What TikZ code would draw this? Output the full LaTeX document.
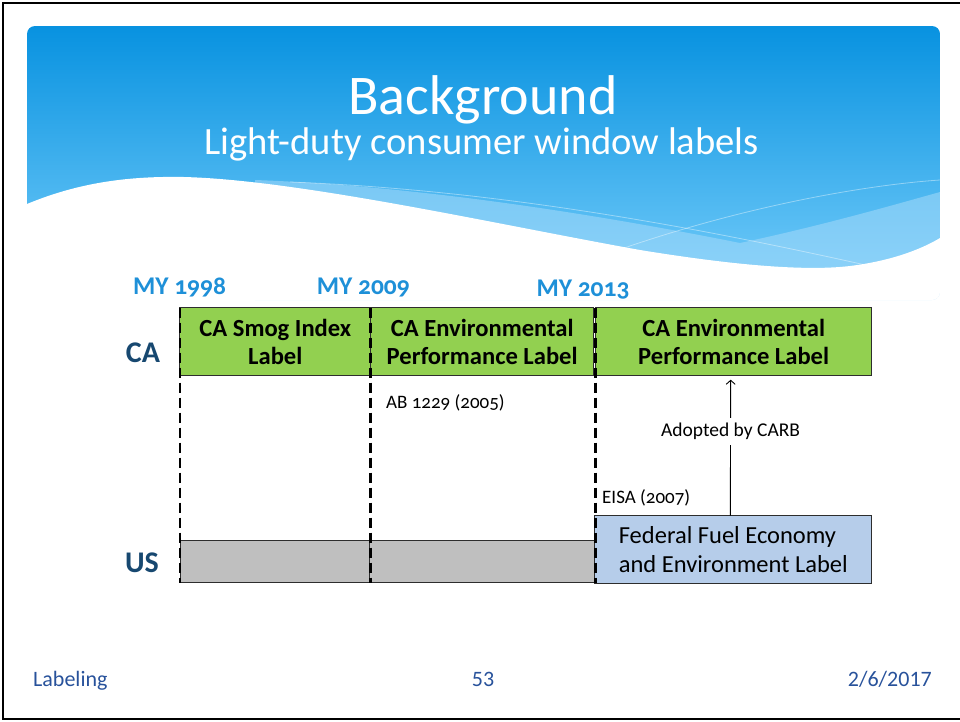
\documentclass[tikz,border=0pt]{standalone}
\usepackage{fontspec}
\setmainfont{Carlito}[Numbers=OldStyle]
\newfontfamily\liningfont{Carlito}
\usetikzlibrary{arrows.meta}

\definecolor{hdtop}{RGB}{8,146,224}
\definecolor{hdbot}{RGB}{108,200,248}
\definecolor{bandblue}{RGB}{165,218,250}
\definecolor{cagreen}{RGB}{146,208,80}
\definecolor{usgray}{RGB}{191,191,191}
\definecolor{fedblue}{RGB}{182,205,234}
\definecolor{boxline}{RGB}{45,45,45}
\definecolor{yearblue}{RGB}{30,144,216}
\definecolor{rowblue}{RGB}{23,72,112}
\definecolor{footblue}{RGB}{40,82,155}

\begin{document}
\begin{tikzpicture}[x=1pt,y=-1pt,
  labelbox/.style={draw=boxline, line width=1pt, minimum height=68pt,
    inner sep=0pt, outer sep=0pt, fill=cagreen, align=center,
    font=\bfseries\fontsize{24.6}{28.3}\selectfont},
  graybox/.style={draw=boxline, line width=1pt, minimum height=42.4pt,
    inner sep=0pt, outer sep=0pt, fill=usgray},
  fedbox/.style={draw=boxline, line width=1pt, minimum height=67.6pt,
    inner sep=0pt, outer sep=0pt, fill=fedblue, align=left,
    font=\fontsize{24.5}{28.3}\selectfont},
  year/.style={anchor=base, inner sep=0pt, text=yearblue,
    font=\bfseries\fontsize{25.5}{30}\selectfont},
  rowname/.style={anchor=base, inner sep=0pt, text=rowblue,
    font=\bfseries\fontsize{30}{34}\selectfont},
  note/.style={anchor=base west, inner sep=0pt,
    font=\fontsize{19}{22}\selectfont},
  divider/.style={line width=2.6pt, dash pattern=on 10pt off 5pt},
  footer/.style={anchor=base, inner sep=0pt, text=footblue,
    font=\liningfont\fontsize{22}{26}\selectfont}
]
\useasboundingbox (0,0) rectangle (960,721);

% page frame
\draw[line width=2pt] (960,3) -- (3,3) -- (3,719) -- (960,719);

% header banner with its wave
\begin{scope}
  \clip[rounded corners=8pt] (27,26) rectangle (940,300);
  \shade[top color=hdtop, bottom color=hdbot] (27,26) rectangle (940,272);
  \fill[bandblue, opacity=0.55]
    (255,180) .. controls (420,186) and (600,215) .. (740,243)
    .. controls (820,226) and (890,206) .. (940,192)
    -- (940,300) -- (255,300) -- cycle;
  \draw[white, opacity=0.4, line width=0.8pt]
    (290,182) .. controls (500,190) and (700,228) .. (870,266);
  \draw[white, opacity=0.4, line width=0.8pt]
    (560,272) .. controls (700,215) and (850,186) .. (940,180);
  \fill[white]
    (27,204) .. controls (80,182) and (130,176) .. (184,177)
    .. controls (300,180) and (500,225) .. (640,250)
    .. controls (720,263) and (800,272) .. (850,266)
    .. controls (890,261) and (920,250) .. (940,238)
    -- (940,300) -- (27,300) -- cycle;
\end{scope}

\node[anchor=base, inner sep=0pt, text=white,
  font=\fontsize{56}{62}\selectfont] (title) at (483,114) {Background};
\node[anchor=base, inner sep=0pt, text=white,
  font=\fontsize{38.6}{44}\selectfont] (subtitle) at (481.5,154)
  {Light-duty consumer window labels};

% model-year markers
\node[year] (my98) at (179.5,294.5) {MY 1998};
\node[year] (my09) at (363.3,294.5) {MY 2009};
\node[year] (my13) at (583,296) {MY 2013};

% row names
\node[rowname] (ca) at (143,362) {CA};
\node[rowname] (us) at (142,572) {US};

% California labels
\node[labelbox, minimum width=190.7pt] (b1) at (275.3,341.7) {CA Smog Index\\Label};
\node[labelbox, minimum width=223pt] (b2) at (482.2,341.7) {CA Environmental\\Performance Label};
\node[labelbox, minimum width=276pt] (b3) at (733.7,341.7) {CA Environmental\\Performance Label};

% federal labels
\node[graybox, minimum width=189pt] (g1) at (274.5,561.5) {};
\node[graybox, minimum width=224.7pt] (g2) at (481.7,561.5) {};
\node[fedbox, minimum width=276.7pt] (fed) at (733.3,549.5)
  {Federal Fuel Economy\\and Environment Label};

% year dividers
\draw[divider] (b1.north west) -- (b1.north west |- g1.south);
\draw[divider] (b1.north east) -- (b1.north east |- g1.south);
\draw[divider] (b3.north west) -- (b3.north west |- fed.south);

% legislation notes
\node[note] (ab) at (386,408) {AB 1229 (2005)};
\node[note] (eisa) at (602,503) {EISA (2007)};

% adoption arrow
\draw[line width=0.9pt, -{Straight Barb[length=4pt,width=9pt]}, shorten >=4pt]
  ([xshift=-3pt]fed.north) -- ([xshift=-3pt]b3.south)
  node[pos=0.6, fill=white, inner xsep=2pt, inner ysep=5pt,
       font=\fontsize{19.5}{22}\selectfont] (carb) {Adopted by CARB};

% footer
\node[footer, anchor=base west] (f1) at (33,686) {Labeling};
\node[footer] (f2) at (483,686) {53};
\node[footer, anchor=base east] (f3) at (932,686) {2/6/2017};
\end{tikzpicture}
\end{document}
